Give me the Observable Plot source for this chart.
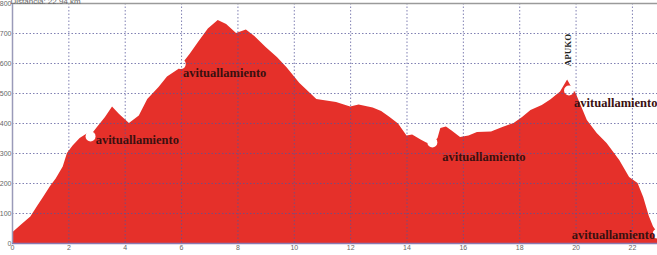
<!DOCTYPE html>
<html><head><meta charset="utf-8">
<script src="https://cdn.jsdelivr.net/npm/d3@7"></script>
<script src="https://cdn.jsdelivr.net/npm/@observablehq/plot@0.6"></script>
<style>body{margin:0;background:#fff;overflow:hidden}svg{display:block}</style>
</head><body><div id="chart"></div>
<script>
const distKm = [0,0.3,0.65,0.9,1.1,1.35,1.55,1.8,1.95,2.15,2.4,2.65,2.75,3.0,3.3,3.55,3.8,4.15,4.5,4.8,5.2,5.5,5.9,5.97,6.05,6.3,6.6,6.95,7.3,7.6,7.95,8.3,8.6,9.0,9.4,9.75,10.2,10.8,11.5,12.0,12.3,12.8,13.1,13.4,13.7,14.0,14.2,14.5,14.7,14.9,15.1,15.2,15.4,15.6,15.9,16.2,16.5,17.0,17.4,17.8,18.1,18.4,18.8,19.1,19.45,19.7,19.85,20.0,20.4,20.75,21.1,21.55,21.9,22.2,22.4,22.6,22.75,22.94];
const elevM  = [35,60,88,125,153,190,215,255,300,325,350,365,355,385,420,455,430,400,425,480,520,555,580,590,600,630,670,715,743,730,700,712,690,653,620,585,533,480,470,455,462,452,440,420,398,358,362,345,335,330,350,383,388,375,353,358,370,372,387,400,420,443,460,478,505,545,520,500,410,367,333,277,220,200,153,90,55,30];
const stopKm   = [2.77,5.97,14.9,19.75,22.9];
const stopElev = [357,598,337,510,33];
const labelKm   = [2.95,6.05,15.25,19.93,19.85];
const labelElev = [345,570,290,470,30];
const labelText = ["avituallamiento","avituallamiento","avituallamiento","avituallamiento","avituallamiento"];
const peakName = ["APUKO"];
const peakKm = [19.7];
const peakElev = [645];
const xTicks = [0,2,4,6,8,10,12,14,16,18,20,22];
const yTicks = [0,100,200,300,400,500,600,700,800];
const title = ["Distancia: 22.94 km"];

const profile = distKm.map((d,i)=>({d, e: elevM[i]}));
const stops = stopKm.map((d,i)=>({d, e: stopElev[i]}));
const labels = labelKm.map((d,i)=>({d, e: labelElev[i], t: labelText[i]}));
const peaks = peakName.map((t,i)=>({d: peakKm[i], e: peakElev[i], t}));

const chart = Plot.plot({
  width: 657, height: 255,
  marginLeft: 12, marginRight: 0, marginTop: 3, marginBottom: 12,
  style: {background: "#fff", fontFamily: "Liberation Sans, Arial, sans-serif"},
  x: {domain: [0, 22.89], ticks: xTicks},
  y: {domain: [0, 800], ticks: yTicks},
  marks: [
    Plot.areaY(profile, {x: "d", y: "e", fill: "#e5302a", clip: true, curve: "linear"}),
    Plot.dot(stops, {x: "d", y: "e", r: 5, fill: "#fff", clip: true}),
    Plot.gridX(xTicks, {stroke: "#55559a", strokeOpacity: 0.75, strokeDasharray: "1.5,2", strokeWidth: 1}),
    Plot.gridY(yTicks.slice(1, -1), {stroke: "#55559a", strokeOpacity: 0.75, strokeDasharray: "1.5,2", strokeWidth: 1}),
    Plot.ruleY([800], {stroke: "#9a9a9a", strokeWidth: 1.5}),
    Plot.ruleY([0], {stroke: "#8a7ab0", strokeWidth: 1.5}),
    Plot.ruleX([0], {stroke: "#9a9ab8", strokeWidth: 1.5}),
    Plot.axisX(xTicks, {tickSize: 0, tickPadding: 2, fontSize: 7, fill: "#666", label: null}),
    Plot.axisY(yTicks, {tickSize: 0, tickPadding: 1, fontSize: 7, fill: "#666", label: null}),
    Plot.text(labels, {x: "d", y: "e", text: "t", textAnchor: "start", fontFamily: "Liberation Serif, Times New Roman, serif", fontWeight: "bold", fontSize: 12.5, fill: "#3a1010"}),
    Plot.text(peaks, {x: "d", y: "e", text: "t", rotate: -90, fontFamily: "Liberation Serif, Times New Roman, serif", fontWeight: "bold", fontSize: 9, fill: "#222"}),
    Plot.text(title, {frameAnchor: "top-left", dx: -2, dy: 0, lineAnchor: "bottom", textAnchor: "start", fontSize: 8, fill: "#666"})
  ]
});
document.getElementById("chart").appendChild(chart);
</script></body></html>
